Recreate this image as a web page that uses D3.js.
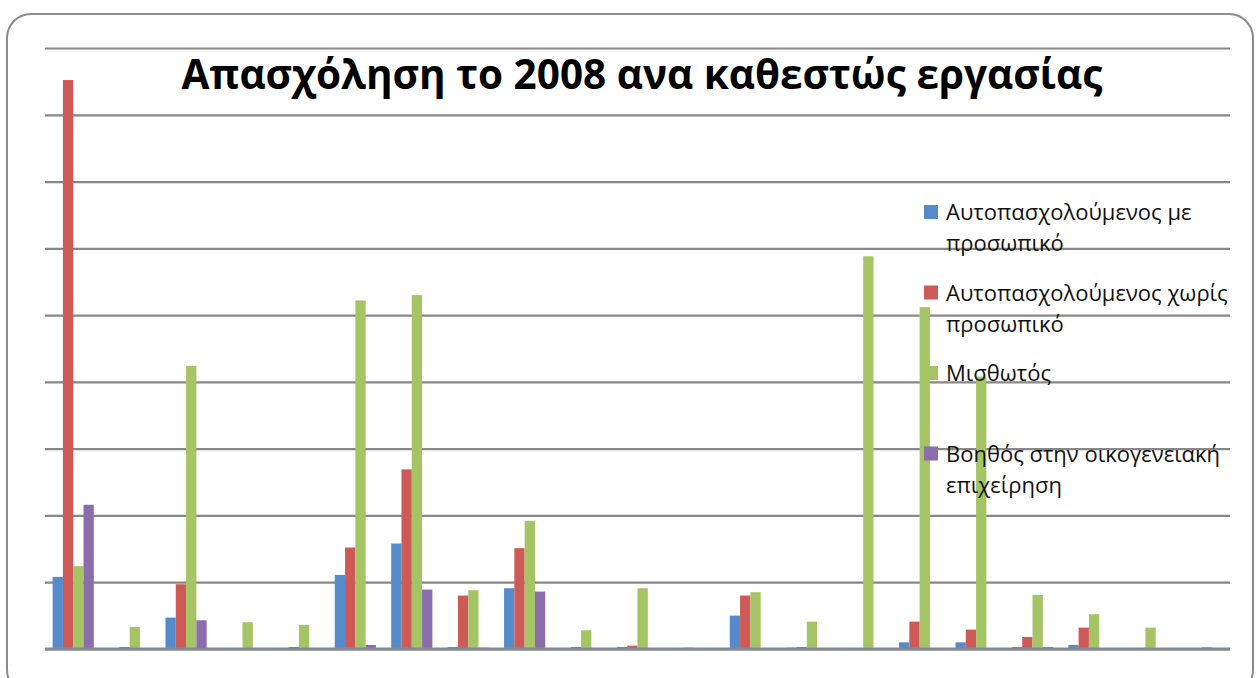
<!DOCTYPE html>
<html>
<head>
<meta charset="utf-8">
<script src="https://cdn.jsdelivr.net/npm/d3@7"></script>
<style>
  body { margin: 0; background: #fff; }
  svg { display: block; }
</style>
</head>
<body>
<div id="chart"></div>
<script>
// chart values (units of one gridline step)
var categories = ["A","B","C","D","E","F","G","H","I","J","K","L","M","N","O","P","Q","R","S","T","U"];
var seriesNames = [
  "Αυτοπασχολούμενος με προσωπικό",
  "Αυτοπασχολούμενος χωρίς προσωπικό",
  "Μισθωτός",
  "Βοηθός στην οικογενειακή επιχείρηση"
];
var withStaff    = [1.08, 0.01, 0.47, 0, 0, 1.11, 1.58, 0.03, 0.91, 0, 0.03, 0, 0.50, 0.02, 0, 0.10, 0.10, 0.03, 0.06, 0, 0];
var withoutStaff = [8.52, 0.03, 0.97, 0, 0.03, 1.52, 2.69, 0.80, 1.51, 0.03, 0.05, 0.02, 0.80, 0.03, 0, 0.41, 0.29, 0.18, 0.32, 0, 0];
var employees    = [1.24, 0.33, 4.24, 0.40, 0.36, 5.22, 5.30, 0.88, 1.92, 0.28, 0.91, 0, 0.85, 0.41, 5.88, 5.12, 4.08, 0.81, 0.52, 0.32, 0.03];
var familyHelp   = [2.16, 0, 0.43, 0, 0.01, 0.06, 0.89, 0.02, 0.86, 0, 0.01, 0, 0, 0, 0, 0, 0, 0.03, 0, 0, 0];
var yTicks = [0, 1, 2, 3, 4, 5, 6, 7, 8, 9];

var colors = ["#558acb", "#cd5a56", "#a5c463", "#8b6dac"];
var series = [withStaff, withoutStaff, employees, familyHelp];

var svgWidth = 1259;
var svgHeight = 678;

var margin = { top: 48, right: 29, bottom: 29, left: 45 };
var width = svgWidth - margin.left - margin.right;
var height = svgHeight - margin.top - margin.bottom;

var svg = d3.select("#chart")
  .append("svg")
  .attr("width", svgWidth)
  .attr("height", svgHeight);

// outer rounded frame
svg.append("rect")
  .attr("x", 7)
  .attr("y", 14)
  .attr("width", 1246)
  .attr("height", 680)
  .attr("rx", 24)
  .attr("fill", "none")
  .attr("stroke", "#8c8c8c")
  .attr("stroke-width", 2);

var chartGroup = svg.append("g")
  .attr("transform", `translate(${margin.left}, ${margin.top})`);

var x0 = d3.scaleBand()
  .domain(categories)
  .range([0, width])
  .paddingInner(0.27)
  .paddingOuter(0.135);

var x1 = d3.scaleBand()
  .domain(d3.range(series.length))
  .range([0, x0.bandwidth()]);

var y = d3.scaleLinear()
  .domain([0, 9])
  .range([height, 0]);

// gridlines
var grid = chartGroup.append("g")
  .call(d3.axisLeft(y).tickValues(yTicks).tickSize(-width).tickFormat(""));
grid.select(".domain").remove();
grid.selectAll(".tick line")
  .attr("stroke", "#878787")
  .attr("stroke-width", 2.2);

// bars
var rows = categories.map(function(c, i) {
  return { cat: c, vals: series.map(function(s) { return s[i]; }) };
});

var groups = chartGroup.selectAll(".grp")
  .data(rows)
  .enter()
  .append("g")
  .attr("class", "grp")
  .attr("transform", d => `translate(${x0(d.cat)}, 0)`);

groups.selectAll("rect")
  .data(d => d.vals.map((v, k) => ({ v: v, k: k })))
  .enter()
  .append("rect")
  .attr("x", d => x1(d.k))
  .attr("y", d => y(d.v))
  .attr("width", x1.bandwidth())
  .attr("height", d => height - y(d.v))
  .attr("fill", d => colors[d.k]);

// baseline
chartGroup.append("line")
  .attr("x1", 0)
  .attr("x2", width)
  .attr("y1", y(0))
  .attr("y2", y(0))
  .attr("stroke", "#858b96")
  .attr("stroke-width", 3);

// title
svg.append("text")
  .attr("x", 642)
  .attr("y", 89)
  .attr("text-anchor", "middle")
  .style("font-family", "'Open Sans', 'Noto Sans', sans-serif")
  .style("font-weight", "bold")
  .style("font-size", "40.5px")
  .attr("fill", "#000")
  .text("Απασχόληση το 2008 ανα καθεστώς εργασίας");

// legend
var legendLines = [
  ["Αυτοπασχολούμενος με", "προσωπικό"],
  ["Αυτοπασχολούμενος χωρίς", "προσωπικό"],
  ["Μισθωτός"],
  ["Βοηθός στην οικογενειακή", "επιχείρηση"]
];

var legend = svg.append("g")
  .attr("transform", "translate(924, 205)");

legendLines.forEach(function(lines, i) {
  var item = legend.append("g")
    .attr("transform", `translate(0, ${i * 80.5})`);
  item.append("rect")
    .attr("width", 14)
    .attr("height", 14)
    .attr("fill", colors[i]);
  lines.forEach(function(t, j) {
    item.append("text")
      .attr("x", 22)
      .attr("y", 15 + j * 31)
      .style("font-family", "'Open Sans', 'Noto Sans', sans-serif")
      .style("font-size", "22px")
      .attr("fill", "#111")
      .text(t);
  });
});
</script>
</body>
</html>
